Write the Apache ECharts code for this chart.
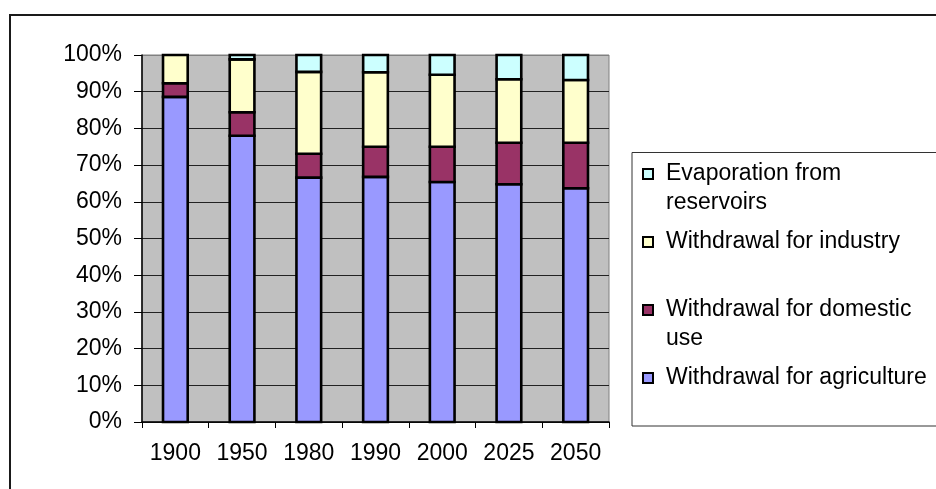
<!DOCTYPE html>
<html>
<head>
<meta charset="utf-8">
<script src="https://cdn.jsdelivr.net/npm/echarts@6/dist/echarts.min.js"></script>
<style>
  html, body { margin: 0; padding: 0; background: #ffffff; }
  #chart { width: 936px; height: 489px; }
</style>
</head>
<body>
<div id="chart"></div>
<script>
// Share of global water use by sector, stacked to 100% per year
const years = ['1900', '1950', '1980', '1990', '2000', '2025', '2050'];
const agriculture = [88.6, 78.0, 66.6, 66.8, 65.4, 64.8, 63.7];
const domestic = [3.7, 6.4, 6.5, 8.2, 9.6, 11.3, 12.4];
const industry = [7.7, 14.4, 22.3, 20.3, 19.6, 17.3, 17.1];
const evaporation = [0, 1.2, 4.6, 4.7, 5.4, 6.6, 6.8];

const seriesNames = [
  'Withdrawal for agriculture',
  'Withdrawal for domestic use',
  'Withdrawal for industry',
  'Evaporation from reservoirs'
];
const seriesColors = ['#9999FF', '#993366', '#FFFFCC', '#CCFFFF'];
const seriesValues = [agriculture, domestic, industry, evaporation];

// Legend entries listed top to bottom; long names wrap onto a second line
const legendOrder = [
  'Evaporation from reservoirs',
  'Withdrawal for industry',
  'Withdrawal for domestic use',
  'Withdrawal for agriculture'
];
const legendWrapped = {
  'Evaporation from reservoirs': 'Evaporation from\nreservoirs',
  'Withdrawal for domestic use': 'Withdrawal for domestic\nuse'
};

const FONT = '"Liberation Sans", Arial, sans-serif';
const FS = 23;

// Gridlines are dark; the top one sits on the grey plot frame
const gridColors = [];
for (let i = 0; i < 10; i++) gridColors.push('#222222');
gridColors.push('#808080');

// Stack the segments: each item is [category index, segment base, segment top]
const stackedData = [];
const running = years.map(function () { return 0; });
seriesValues.forEach(function (vals) {
  stackedData.push(vals.map(function (v, i) {
    const base = running[i];
    running[i] = base + v;
    return [i, base, base + v];
  }));
});

// Outlined stacked segment, centred in its category band
function renderSegment(color) {
  return function (params, api) {
    const lo = api.value(1);
    const hi = api.value(2);
    if (hi - lo <= 0) return null;
    const bottom = api.coord([api.value(0), lo]);
    const top = api.coord([api.value(0), hi]);
    const w = api.size([1, 0])[0] * 0.37;
    return {
      type: 'rect',
      shape: { x: bottom[0] - w / 2, y: top[1], width: w, height: bottom[1] - top[1] },
      style: { fill: color, stroke: '#000000', lineWidth: 2.6 }
    };
  };
}

const chart = echarts.init(document.getElementById('chart'), null, { renderer: 'canvas' });

chart.setOption({
  animation: false,
  backgroundColor: '#ffffff',
  textStyle: { fontFamily: FONT },
  grid: {
    left: 142, right: 327, top: 55, bottom: 67,
    show: true,
    backgroundColor: '#C0C0C0',
    borderColor: '#808080',
    borderWidth: 1
  },
  legend: {
    orient: 'vertical',
    left: 642,
    top: 130.5,
    padding: 0,
    itemGap: 10,
    itemWidth: 10,
    itemHeight: 10,
    selectedMode: false,
    icon: 'rect',
    data: legendOrder,
    itemStyle: { borderColor: '#000000', borderWidth: 2 },
    formatter: function (name) {
      // a leading blank line keeps the marker level with the first text line
      return legendWrapped[name] ? '\n' + legendWrapped[name] : name;
    },
    textStyle: {
      fontFamily: FONT,
      fontSize: FS,
      color: '#000000',
      lineHeight: 29,
      padding: [0, 0, 0, 8]
    }
  },
  xAxis: {
    type: 'category',
    data: years,
    boundaryGap: true,
    axisLine: { show: true, lineStyle: { color: '#000000', width: 1.5 } },
    axisTick: { show: true, length: 6, lineStyle: { color: '#000000', width: 1 } },
    axisLabel: { color: '#000000', fontFamily: FONT, fontSize: FS, margin: 20 },
    splitLine: { show: false }
  },
  yAxis: {
    type: 'value',
    min: 0,
    max: 100,
    interval: 10,
    axisLine: { show: true, lineStyle: { color: '#000000', width: 1.5 } },
    axisTick: { show: true, length: 8, lineStyle: { color: '#000000', width: 1 } },
    axisLabel: {
      color: '#000000', fontFamily: FONT, fontSize: FS, margin: 20,
      formatter: '{value}%'
    },
    splitLine: { show: true, lineStyle: { color: gridColors, width: 1.2 } }
  },
  graphic: [
    {
      // outer chart frame (right and bottom edges run off the page)
      type: 'rect',
      z: -10,
      silent: true,
      shape: { x: 10, y: 15, width: 1000, height: 600 },
      style: { fill: null, stroke: '#1a1a1a', lineWidth: 2 }
    },
    {
      // legend frame
      type: 'rect',
      z: -5,
      silent: true,
      shape: { x: 632, y: 152.5, width: 400, height: 273.5 },
      style: { fill: '#ffffff', stroke: '#333333', lineWidth: 1 }
    }
  ],
  series: seriesNames.map(function (name, i) {
    return {
      name: name,
      type: 'custom',
      coordinateSystem: 'cartesian2d',
      data: stackedData[i],
      encode: { x: 0, y: [1, 2] },
      itemStyle: { color: seriesColors[i], borderColor: '#000000', borderWidth: 2 },
      renderItem: renderSegment(seriesColors[i]),
      emphasis: { disabled: true }
    };
  })
});
</script>
</body>
</html>
